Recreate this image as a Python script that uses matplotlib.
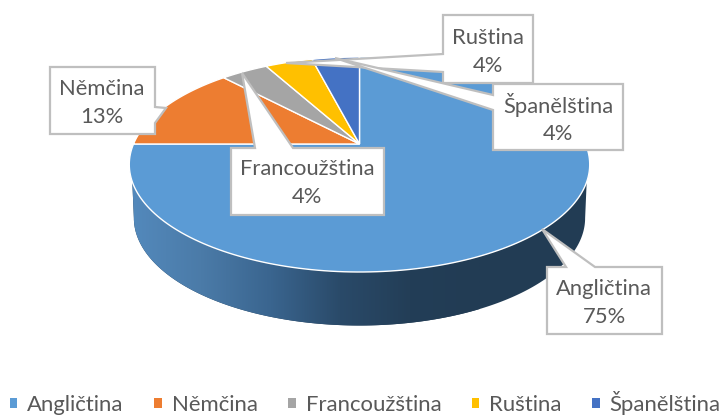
import numpy as np
import matplotlib
matplotlib.use('Agg')
import matplotlib.pyplot as plt
from matplotlib.colors import LinearSegmentedColormap
from matplotlib.patches import Polygon, Patch

languages = ['Angličtina', 'Němčina', 'Francoužština', 'Ruština', 'Španělština']
shares = [75, 13, 4, 4, 4]
colors = ['#5B9BD5', '#ED7D31', '#A5A5A5', '#FFC000', '#4472C4']

plt.rcParams['font.family'] = ['Lato', 'DejaVu Sans']
FONT = 15.8
TEXT = '#595959'
EDGE = '#BFBFBF'

fig = plt.figure(figsize=(7.23, 4.16), dpi=100)
ax = fig.add_axes([0, 0, 1, 1])
ax.set_xlim(0, 723)
ax.set_ylim(416, 0)
ax.axis('off')


# perspective view of the unit circle, angle is clockwise from 12 o'clock
def rim(a, dy=0, sx=1.0):
    u, v = np.sin(a), np.cos(a)
    d = 1 + 0.1907 * v
    return 359.5 + sx * 226 * u / d, (144 - 76.13 * v) / d + dy


# side wall
a = np.radians(np.linspace(0, 360, 721))
tx, ty = rim(a)
bx, by = rim(a, dy=53.5, sx=0.98)
top = ty >= 181
low = by >= 218
order_t = np.argsort(tx[top])
order_b = np.argsort(bx[low])[::-1]
wall_x = np.r_[tx[top][order_t], bx[low][order_b]]
wall_y = np.r_[ty[top][order_t], by[low][order_b]]
wall = Polygon(np.c_[wall_x, wall_y], closed=True, fc='none', ec='none')
ax.add_patch(wall)
cmap = LinearSegmentedColormap.from_list('wall', ['#5389BC', '#4B7BA8', '#3A658F', '#2A4A69', '#233E57', '#223C54'])
grad = np.linspace(0, 1, 256).reshape(1, -1)
img = ax.imshow(grad, cmap=cmap, extent=[131, 480, 330, 170], aspect='auto', zorder=1)
ax.add_patch(Polygon(np.c_[wall_x, wall_y], closed=True, fc='#223C54', ec='none', zorder=0.5))
img.set_clip_path(wall)
ax.set_xlim(0, 723)
ax.set_ylim(416, 0)

# top face
edges = np.radians(np.r_[0, np.cumsum(shares)] * 3.6)
for i in range(len(shares)):
    a = np.linspace(edges[i], edges[i + 1], 200)
    x, y = rim(a)
    ax.fill(np.r_[359.5, x], np.r_[144, y], color=colors[i], ec='white', lw=1.0, zorder=2)

# callouts: box corners, then pointer
boxes = [
    ([547, 267, 662, 334], [(566, 267), (542, 229), (595, 267)], (604, 303), 0),
    ([50, 67, 155, 134], [(155, 107), (166, 108), (155, 123)], (102, 103), 1),
    ([231, 148, 384, 215], [(255, 148), (242, 73), (293, 148)], (307, 183), 2),
    ([443, 15, 533, 83], [(443, 54), (286, 63), (443, 72)], (488, 52), 3),
    ([493, 84, 623, 150], [(493, 95), (335, 58), (493, 110)], (558, 118.5), 4),
]


def callout(box, ptr):
    x0, y0, x1, y1 = box
    # pointer is spliced into the edge it starts from
    if ptr[0][1] == y0 and ptr[2][1] == y0:
        pts = [(x0, y0)] + ptr + [(x1, y0), (x1, y1), (x0, y1)]
    elif ptr[0][0] == x1:
        pts = [(x0, y0), (x1, y0)] + ptr + [(x1, y1), (x0, y1)]
    else:
        pts = [(x0, y0), (x1, y0), (x1, y1), (x0, y1)] + ptr[::-1]
    return pts


for n, (box, ptr, pos, idx) in enumerate(boxes):
    ax.add_patch(Polygon(callout(box, ptr), closed=True, fc='white', ec=EDGE, lw=1.6, zorder=3 + n))
    ax.text(pos[0], pos[1], f'{languages[idx]}\n{shares[idx]}%', ha='center', va='center',
            color=TEXT, fontsize=FONT, linespacing=1.45, zorder=3 + n)

# legend
handles = [Patch(fc=c, ec='none') for c in colors]
leg = ax.legend(handles, languages, ncol=5, loc='lower left', bbox_to_anchor=(9.5 / 723, 0.002),
                frameon=False, fontsize=15.9, labelcolor=TEXT, handlelength=0.35, handleheight=0.35,
                handletextpad=0.45, columnspacing=1.37, borderpad=0, borderaxespad=0)

fig.savefig('out.png', dpi=100)
